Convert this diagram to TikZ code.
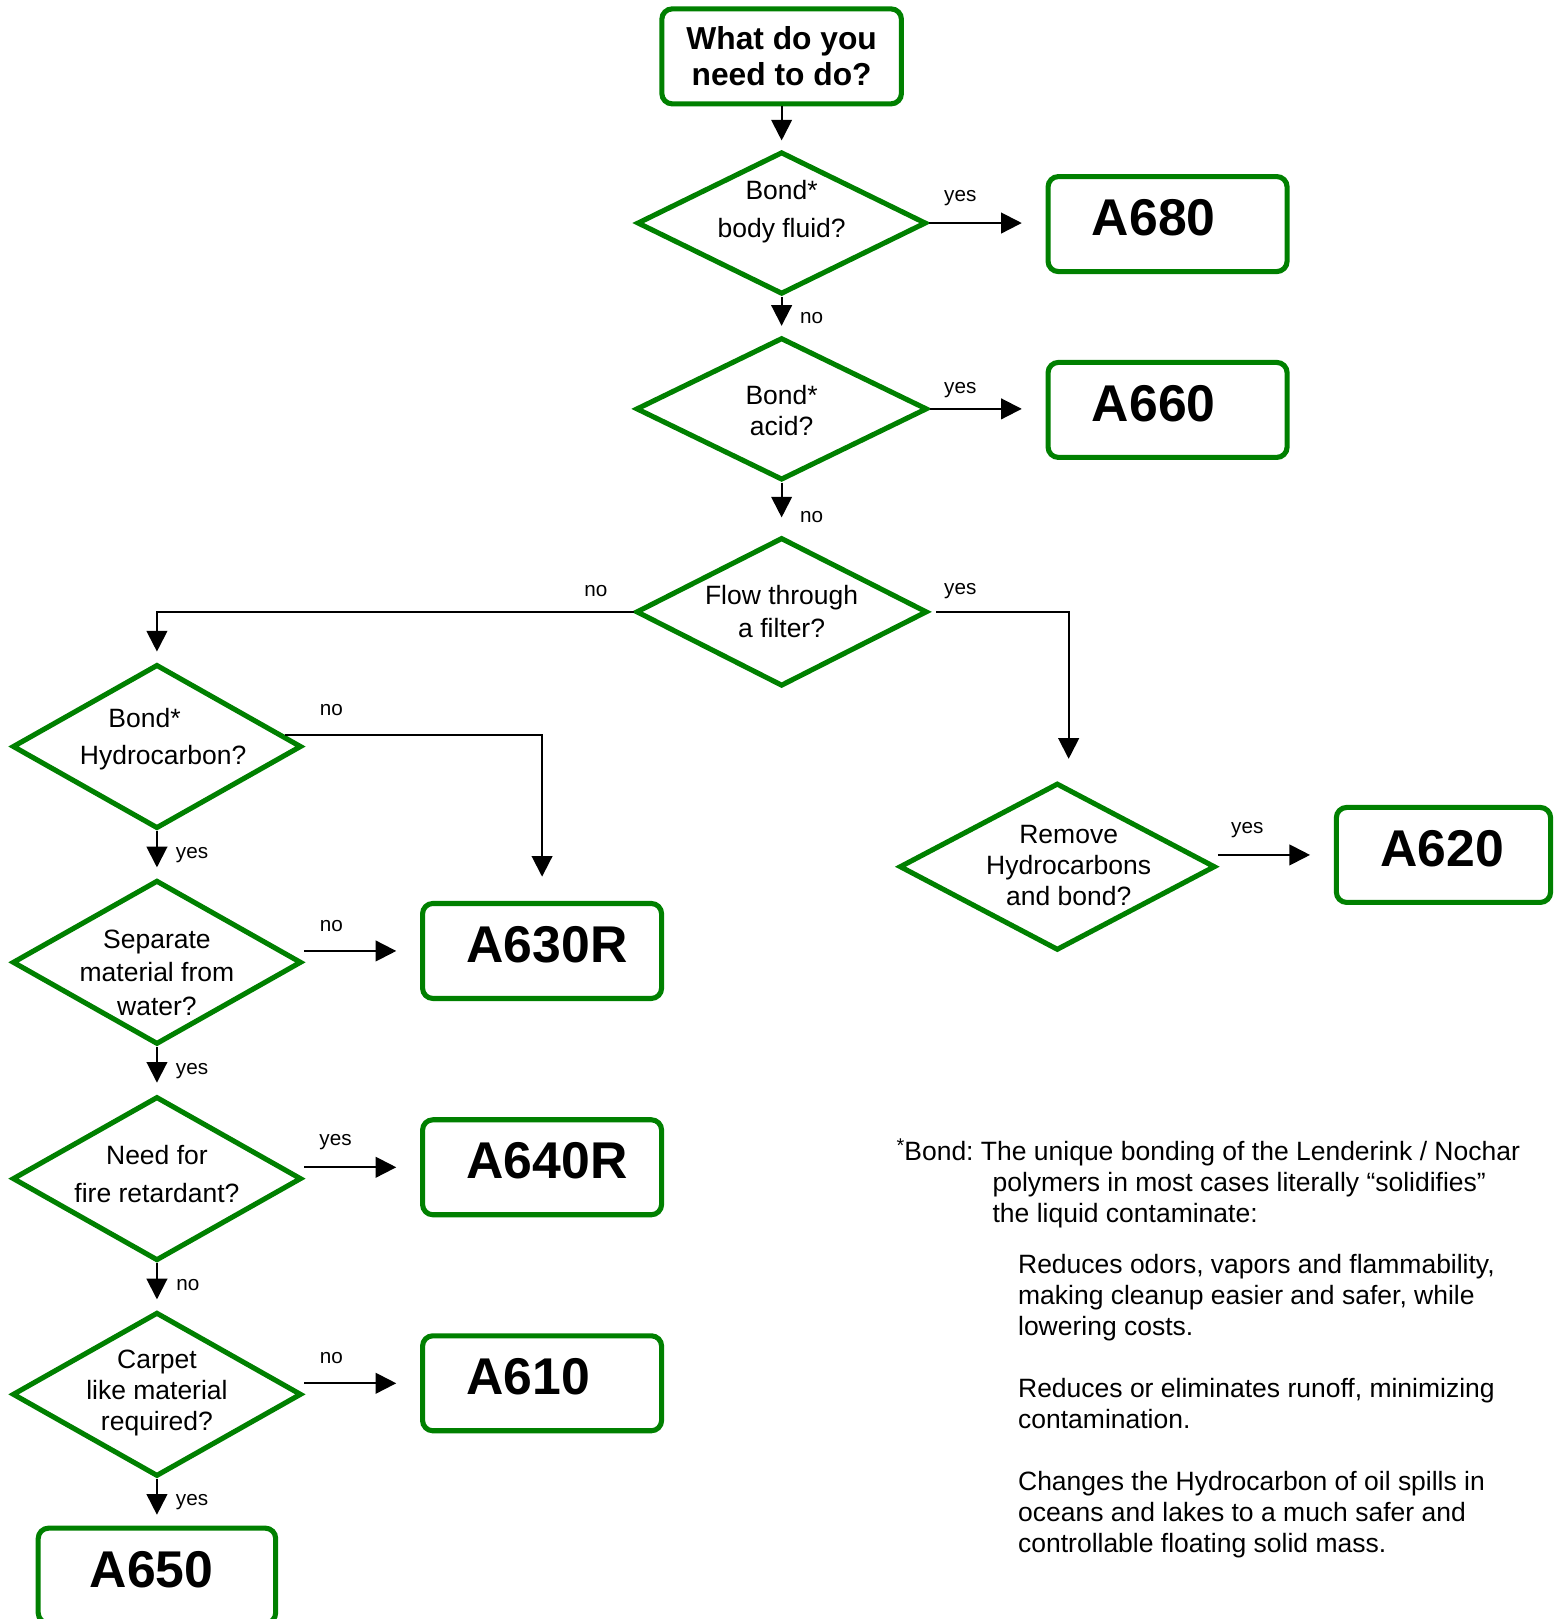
\documentclass[tikz,border=0pt]{standalone}
\usepackage{fontspec}
\setmainfont{Liberation Sans}
\usetikzlibrary{shapes.geometric,arrows.meta}
\definecolor{flowgreen}{RGB}{0,128,0}

\tikzset{
  decision/.style={diamond, draw=flowgreen, line width=2.8pt, inner sep=0pt,
    minimum width=56mm, minimum height=31.8mm},
  qtext/.style={align=center, inner sep=0pt, font=\fontsize{14.6}{17.1}\selectfont},
  result/.style={draw=flowgreen, line width=2.8pt, rounded corners=2mm,
    minimum height=18.4mm, inner xsep=8.5mm, text width=29.3mm, align=left,
    text height=7.2mm, text depth=2.8mm, font=\bfseries\fontsize{28.5}{34}\selectfont},
  flow/.style={line width=1.1pt, -{Triangle[length=4mm,width=4mm]}},
  lbl/.style={inner sep=0pt, font=\fontsize{11.4}{13}\selectfont},
  note/.style={align=left, anchor=north west, inner sep=0pt, font=\frenchspacing\fontsize{14.6}{17.1}\selectfont}
}

\begin{document}
\begin{tikzpicture}[x=0.2mm,y=-0.2mm]
\useasboundingbox (0,0) rectangle (1507,1568);

% main column
\node[draw=flowgreen, line width=2.8pt, rounded corners=2mm, minimum width=46.4mm, minimum height=18.4mm,
  align=center, font=\bfseries\fontsize{17.5}{19.9}\selectfont] (start) at (757,54.6) {What do you\\need to do?};

\node[decision, minimum width=56mm, minimum height=27.6mm] (fluid) at (757,216) {};
\node[qtext] (fluidtext) at (757,205) {Bond*\\[3.4pt]body fluid?};

\node[decision, minimum width=56.4mm, minimum height=27.6mm] (acid) at (757,396) {};
\node[qtext] (acidtext) at (757,398) {Bond*\\acid?};

\node[decision, minimum width=56.4mm, minimum height=28.8mm] (filter) at (757,592.6) {};
\node[qtext] (filtertext) at (757,592) {Flow through\\[1.1pt]a filter?};

\node[result] (a680) at (1130.8,217) {A680};
\node[result] (a660) at (1130.8,397) {A660};

% left column
\node[decision] (hydro) at (152,723) {};
\node[qtext] (hydrotext) at (158,716) {Bond*\hspace*{7.2mm}\\[3.4pt]Hydrocarbon?};

\node[decision] (separate) at (152,932) {};
\node[qtext] (separatetext) at (152,942) {Separate\\[1.4pt]material from\\[1.4pt]water?};

\node[decision] (fire) at (152,1141.5) {};
\node[qtext] (firetext) at (152,1137) {Need for\\[3.4pt]fire retardant?};

\node[decision] (carpet) at (152,1350.4) {};
\node[qtext] (carpettext) at (152,1349.5) {Carpet\\like material\\required?};

\node[result] (a630r) at (525,921) {A630R};
\node[result] (a640r) at (525,1130.5) {A640R};
\node[result] (a610) at (525,1339.7) {A610};
\node[result, inner xsep=10mm, text width=26mm] (a650) at (152,1526) {A650};

% right branch
\node[decision, minimum width=61.2mm, minimum height=32.4mm] (remove) at (1024,839.4) {};
\node[qtext] (removetext) at (1035,838.5) {Remove\\Hydrocarbons\\and bond?};
\node[result, text width=24.5mm] (a620) at (1398,828) {A620};

% connectors
\draw[flow, shorten >=1.7mm] (start) -- (fluid);
\draw[flow, shorten >=4.6mm] (fluid.east) -- (fluid.east -| a680.west);
\draw[flow, shorten >=1.8mm] (fluid) -- (acid);
\draw[flow, shorten >=4.6mm] (acid.east) -- (acid.east -| a660.west);
\draw[flow, shorten >=3.4mm] (acid) -- (filter);
\draw[flow, shorten >=2mm] (filter.west) -| (hydro.north);
\draw[flow, shorten <=1.3mm, shorten >=4.2mm] (filter.east) -| ([xshift=2.2mm]remove.north);
\draw[flow, shorten >=4.6mm] (remove.east |- a620.west) -- (a620.west);

\draw[flow, shorten >=4.7mm] (hydro.5) -| (a630r.north);
\draw[flow, shorten >=2mm] (hydro) -- (separate);
\draw[flow, shorten >=4.6mm] (separate.east |- a630r.west) -- (a630r.west);
\draw[flow, shorten >=2.2mm] (separate) -- (fire);
\draw[flow, shorten >=4.6mm] (fire.east |- a640r.west) -- (a640r.west);
\draw[flow, shorten >=2mm] (fire) -- (carpet);
\draw[flow, shorten >=4.6mm] (carpet.east |- a610.west) -- (a610.west);
\draw[flow, shorten >=2.1mm] (carpet) -- (a650);

% yes / no
\node[lbl] (yes1) at (930,192) {yes};
\node[lbl] (no1) at (786,308) {no};
\node[lbl] (yes2) at (930,378) {yes};
\node[lbl] (no2) at (786,501) {no};
\node[lbl] (no3) at (577,572) {no};
\node[lbl] (yes3) at (930,572) {yes};
\node[lbl] (no4) at (321,688) {no};
\node[lbl] (yes4) at (186,828) {yes};
\node[lbl] (no5) at (321,897) {no};
\node[lbl] (yes5) at (186,1037) {yes};
\node[lbl] (yes6) at (325,1106) {yes};
\node[lbl] (no6) at (182,1245) {no};
\node[lbl] (no7) at (321,1315) {no};
\node[lbl] (yes7) at (186,1455) {yes};
\node[lbl] (yes8) at (1208,804) {yes};

% footnote
\node[note] (bondnote) at (868,1103) {\raisebox{0.3em}{\fontsize{11}{13}\selectfont*}Bond: The unique bonding of the Lenderink / Nochar\\\hspace*{18.6mm}polymers in most cases literally “solidifies”\\\hspace*{18.6mm}the liquid contaminate:};
\node[note] (effects) at (985.7,1214) {Reduces odors, vapors and flammability,\\making cleanup easier and safer, while\\lowering costs.\\[17.1pt]Reduces or eliminates runoff, minimizing\\contamination.\\[17.1pt]Changes the Hydrocarbon of oil spills in\\oceans and lakes to a much safer and\\controllable floating solid mass.};
\end{tikzpicture}
\end{document}
